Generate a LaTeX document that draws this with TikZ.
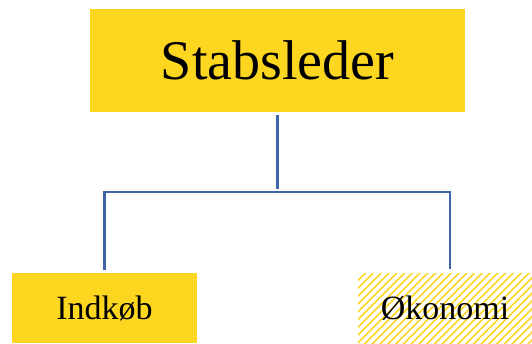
\documentclass[tikz,border=0pt]{standalone}
\usepackage{fontspec}
\setmainfont{Liberation Serif}
\usetikzlibrary{patterns.meta}

\definecolor{boxyellow}{HTML}{FDD620}
\definecolor{linkblue}{HTML}{4064A8}

\tikzset{
  unitbox/.style={fill=boxyellow, draw=none, inner sep=0pt, anchor=center},
  hatchbox/.style={draw=none, inner sep=0pt, anchor=center,
    pattern={Lines[angle=45, distance=5.5pt, line width=1.6pt]}, pattern color=boxyellow},
  link/.style={color=linkblue, line width=2.2pt, shorten <=3pt, shorten >=3pt}
}

\begin{document}
\begin{tikzpicture}[x=1pt, y=1pt]

  \useasboundingbox (0,0) rectangle (532,-343);

  % Boxes.
  \node[unitbox, minimum width=375pt, minimum height=103pt] (leder) at (277.5,-60.5)
    {\fontsize{56}{60}\selectfont Stabsleder};
  \node[unitbox, minimum width=185pt, minimum height=70pt] (indkob) at (104.5,-308)
    {\fontsize{34}{38}\selectfont Indkøb};
  \node[hatchbox, minimum width=174pt, minimum height=70pt] (okonomi) at (445,-308)
    {\fontsize{34}{38}\selectfont Økonomi};

  % Connectors.
  \coordinate (bus) at (0,-192);
  \draw[link] (leder.south) -- (leder.south |- bus);
  \draw[link, shorten <=0pt] (leder.south |- bus) -| (indkob.north);
  \draw[link, shorten <=0pt] (leder.south |- bus) -| ([xshift=5pt]okonomi.north);

\end{tikzpicture}
\end{document}
